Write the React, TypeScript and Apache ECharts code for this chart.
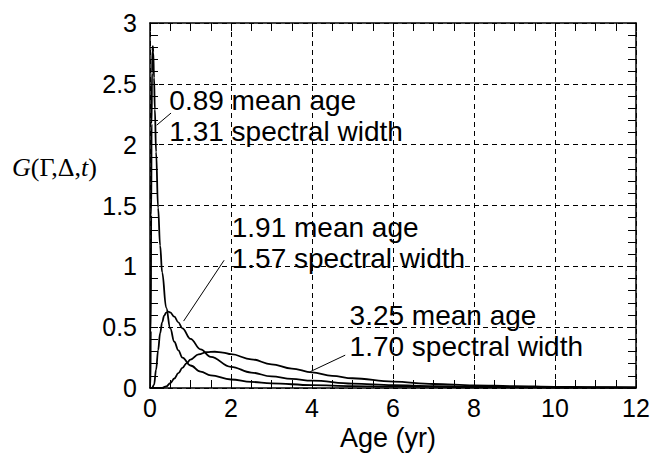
import React, { useEffect, useRef } from "react";
import * as echarts from "echarts";

// Age spectra G(Γ,Δ,t) for three (mean age, spectral width) pairs
const AGE_089 = [0, 0.01, 0.02, 0.03, 0.04, 0.05, 0.06, 0.07, 0.08, 0.1, 0.12, 0.15, 0.2, 0.25, 0.3, 0.4, 0.5, 0.6, 0.7, 0.8, 1.0, 1.25, 1.5, 2, 2.5, 3, 4, 5, 6, 8, 10, 12];
const G_089 = [0, 0.008, 0.47, 1.42, 2.17, 2.59, 2.77, 2.81, 2.76, 2.55, 2.29, 1.94, 1.48, 1.17, 0.95, 0.66, 0.49, 0.38, 0.31, 0.25, 0.185, 0.135, 0.103, 0.07, 0.05, 0.038, 0.024, 0.016, 0.011, 0.006, 0.004, 0.003];

const AGE_191 = [0, 0.05, 0.1, 0.15, 0.2, 0.25, 0.3, 0.35, 0.4, 0.45, 0.5, 0.6, 0.7, 0.8, 1.0, 1.25, 1.5, 2, 2.5, 3, 3.5, 4, 5, 6, 7, 8, 10, 12];
const G_191 = [0, 0.0001, 0.026, 0.15, 0.31, 0.45, 0.54, 0.595, 0.62, 0.628, 0.621, 0.586, 0.54, 0.49, 0.404, 0.318, 0.256, 0.174, 0.127, 0.095, 0.075, 0.06, 0.036, 0.023, 0.016, 0.011, 0.006, 0.003];

const AGE_325 = [0, 0.2, 0.3, 0.4, 0.5, 0.6, 0.7, 0.8, 0.9, 1.0, 1.2, 1.4, 1.6, 1.8, 2, 2.5, 3, 3.5, 4, 4.5, 5, 6, 7, 8, 9, 10, 11, 12];
const G_325 = [0, 0, 0.0017, 0.013, 0.039, 0.078, 0.122, 0.165, 0.203, 0.234, 0.276, 0.295, 0.298, 0.291, 0.278, 0.236, 0.195, 0.16, 0.128, 0.1, 0.08, 0.052, 0.033, 0.022, 0.015, 0.01, 0.007, 0.005];

// Annotation text, leader line (from, to) and text anchor (top-left), in data units
const NOTE_TEXTS = [
  "0.89 mean age\n1.31 spectral width",
  "1.91 mean age\n1.57 spectral width",
  "3.25 mean age\n1.70 spectral width",
];
const NOTE_LEADERS = [
  [[0.165, 2.16], [0.52, 2.26]],
  [[0.83, 0.55], [1.83, 1.05]],
  [[3.96, 0.135], [4.82, 0.27]],
];
const NOTE_ANCHORS = [
  [0.49, 2.49],
  [2.03, 1.445],
  [4.94, 0.72],
];

const X_MIN = 0;
const X_MAX = 12;
const X_STEP = 2;
const Y_MIN = 0;
const Y_MAX = 3;
const Y_STEP = 0.5;

const zip = (xs: number[], ys: number[]) => xs.map((x, i) => [x, ys[i]]);

const BLACK = "#000";
const SANS = '"Liberation Sans", Arial, Helvetica, sans-serif';
const SERIF = '"Liberation Serif", "Times New Roman", serif';

function frameAxis(position: string, isX: boolean, primary: boolean) {
  return {
    type: "value",
    position,
    min: isX ? X_MIN : Y_MIN,
    max: isX ? X_MAX : Y_MAX,
    interval: isX ? X_STEP : Y_STEP,
    axisLine: { show: true, onZero: false, lineStyle: { color: BLACK, width: 1.5 } },
    axisTick: { show: true, inside: true, length: 8, lineStyle: { color: BLACK, width: 1 } },
    minorTick: {
      show: true,
      splitNumber: isX ? 4 : 5,
      length: 8,
      lineStyle: { color: BLACK, width: 1 },
    },
    minorSplitLine: { show: false },
    splitLine: {
      show: primary,
      lineStyle: { color: BLACK, width: 1, type: [5, 4] },
    },
    axisLabel: primary
      ? {
          show: true,
          color: BLACK,
          fontFamily: SANS,
          fontSize: 25,
          margin: isX ? 7 : 13,
        }
      : { show: false },
  };
}

export default function App() {
  const ref = useRef<HTMLDivElement>(null);

  useEffect(() => {
    if (!ref.current) return;
    const chart = echarts.init(ref.current, undefined, { renderer: "svg" });

    const curveStyle = {
      type: "line",
      xAxisIndex: 0,
      yAxisIndex: 0,
      showSymbol: false,
      symbol: "none",
      smooth: 0.4,
      smoothMonotone: "x",
      silent: true,
      lineStyle: { color: BLACK, width: 1.8 },
      z: 5,
    };

    const curves = [
      { ...curveStyle, name: "0.89", data: zip(AGE_089, G_089) },
      { ...curveStyle, name: "1.91", data: zip(AGE_191, G_191) },
      { ...curveStyle, name: "3.25", data: zip(AGE_325, G_325) },
    ];

    const leaders = NOTE_LEADERS.map((pts, i) => ({
      type: "line",
      name: "leader" + i,
      xAxisIndex: 0,
      yAxisIndex: 0,
      data: pts,
      showSymbol: false,
      symbol: "none",
      silent: true,
      lineStyle: { color: BLACK, width: 1 },
      z: 6,
    }));

    const notes = NOTE_TEXTS.map((text, i) => ({
      type: "scatter",
      name: "note" + i,
      xAxisIndex: 0,
      yAxisIndex: 0,
      data: [NOTE_ANCHORS[i]],
      symbolSize: 1,
      itemStyle: { color: "rgba(0,0,0,0)" },
      silent: true,
      z: 7,
      label: {
        show: true,
        position: [0, 0],
        align: "left",
        verticalAlign: "top",
        formatter: () => text,
        color: BLACK,
        opacity: 1,
        textBorderWidth: 0,
        textBorderColor: "transparent",
        fontFamily: SANS,
        fontSize: 28,
        lineHeight: 31,
      },
    }));

    chart.setOption({
      animation: false,
      backgroundColor: "#fff",
      grid: { left: 150, right: 29, top: 23, bottom: 71, containLabel: false },
      xAxis: [
        {
          ...frameAxis("bottom", true, true),
          name: "Age (yr)",
          nameLocation: "middle",
          nameGap: 36,
          nameTextStyle: { color: BLACK, fontFamily: SANS, fontSize: 27, padding: [0, 10, 0, 0] },
        },
        frameAxis("top", true, false),
      ],
      yAxis: [frameAxis("left", false, true), frameAxis("right", false, false)],
      graphic: [
        {
          type: "text",
          left: 12,
          top: 154,
          style: {
            text: "{i|G}(Γ,Δ,{i|t})",
            fill: BLACK,
            fontFamily: SERIF,
            fontSize: 26,
            rich: {
              i: { fontStyle: "italic", fontFamily: SERIF, fontSize: 26, fill: BLACK },
            },
          },
        },
      ],
      series: [...curves, ...leaders, ...notes],
    });

    return () => chart.dispose();
  }, []);

  return (
    <div
      ref={ref}
      style={{ position: "fixed", left: 0, top: 0, width: 665, height: 459, background: "#fff" }}
    />
  );
}
